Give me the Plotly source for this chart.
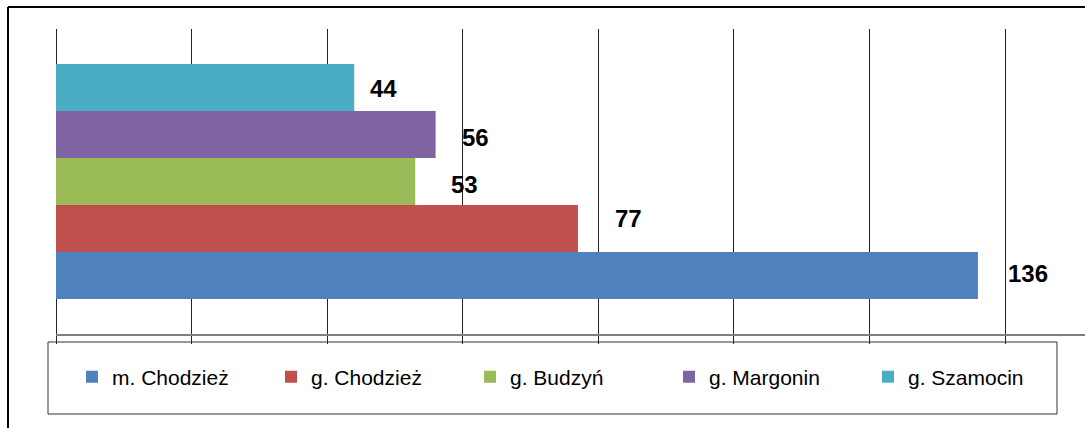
import plotly.graph_objects as go

# ---- data ----
series_names = ["m. Chodzież", "g. Chodzież", "g. Budzyń", "g. Margonin", "g. Szamocin"]
series_values = [136, 77, 53, 56, 44]
series_colors = ["#4F81BD", "#C0504D", "#9BBB59", "#8064A2", "#4BACC6"]
category = [""]

# ---- styling / layout constants ----
W, H = 1085, 428
L, R, T, B = 56, 0, 29, 94
x_max = 151.8
bargap = 0.23
label_dx = [28, 35, 34, 24, 14]      # pixel offset of labels from bar ends
label_dy = [2, 10, -3, -3, -1]       # small vertical pixel nudges
FONT = "Arial, Liberation Sans, sans-serif"

plot_w = W - L - R
plot_h = H - T - B
slot = plot_h * (1 - bargap) / len(series_names)


def px_x(p):
    return (p - L) / plot_w


def px_y(p):
    return (H - B - p) / plot_h


fig = go.Figure()
for name, val, col in zip(series_names, series_values, series_colors):
    fig.add_trace(go.Bar(
        y=category, x=[val], name=name, orientation="h",
        marker=dict(color=col, line=dict(width=0)),
    ))

annotations = []
n = len(series_names)
for i, val in enumerate(series_values):
    annotations.append(dict(
        x=val, y=0, xref="x", yref="y", text=f"<b>{val}</b>",
        showarrow=False, xanchor="left", yanchor="middle",
        xshift=label_dx[i], yshift=(i - (n - 1) / 2) * slot + label_dy[i],
        font=dict(family=FONT, size=24, color="black"),
    ))

shapes = [
    # outer chart frame (left and top edges)
    dict(type="line", xref="paper", yref="paper", x0=px_x(8), x1=px_x(8),
         y0=px_y(440), y1=px_y(7), line=dict(color="black", width=2)),
    dict(type="line", xref="paper", yref="paper", x0=px_x(8), x1=px_x(1100),
         y0=px_y(7), y1=px_y(7), line=dict(color="black", width=2)),
    # legend box
    dict(type="rect", xref="paper", yref="paper", x0=px_x(48), x1=px_x(1057),
         y0=px_y(414), y1=px_y(342), line=dict(color="#333333", width=1),
         fillcolor="rgba(0,0,0,0)"),
]

fig.update_layout(
    width=W, height=H,
    margin=dict(l=L, r=R, t=T, b=B, pad=0),
    paper_bgcolor="white", plot_bgcolor="white",
    barmode="group", bargap=bargap, bargroupgap=0,
    showlegend=True,
    legend=dict(
        orientation="h", x=px_x(72), y=px_y(377), xanchor="left", yanchor="middle",
        font=dict(family=FONT, size=21, color="black"),
        entrywidth=154, entrywidthmode="pixels",
        bgcolor="rgba(0,0,0,0)", borderwidth=0, itemclick=False,
    ),
    xaxis=dict(
        range=[0, x_max], dtick=20, tick0=0,
        showgrid=True, gridcolor="#222222", gridwidth=1,
        zeroline=True, zerolinecolor="#222222", zerolinewidth=1,
        showline=True, linecolor="#7f7f7f", linewidth=2,
        ticks="outside", ticklen=8, tickcolor="#222222", tickwidth=1,
        showticklabels=False, fixedrange=True,
    ),
    yaxis=dict(
        showgrid=False, zeroline=False, showline=False,
        showticklabels=False, ticks="", fixedrange=True,
    ),
    annotations=annotations,
    shapes=shapes,
)

fig.write_html(
    "out.html",
    config={"displayModeBar": False},
    post_script="document.body.style.margin='0';document.body.style.overflow='hidden';",
)
